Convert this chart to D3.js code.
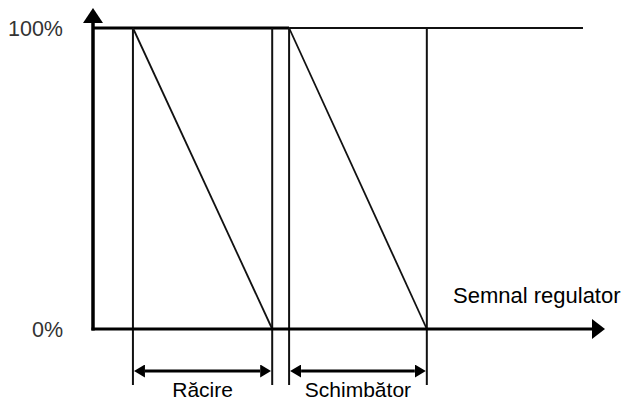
<!DOCTYPE html>
<html>
<head>
<meta charset="utf-8">
<script src="https://cdn.jsdelivr.net/npm/d3@7"></script>
<style>
  body { margin: 0; background: #fff; }
  text { font-family: "Liberation Sans", Arial, sans-serif; }
</style>
</head>
<body>
<div id="chart"></div>
<script>
// signal positions (0..100 along the regulator axis)
var zones = [
  { name: 'Răcire', start: 7.8, end: 35.0 },
  { name: 'Schimbător', start: 38.3, end: 65.2 }
];
var topLineEnd = 95.7;
var yTicks = [0, 100];
var yTickLabels = ['0%', '100%'];
var xTitle = 'Semnal regulator';

var svgWidth = 628;
var svgHeight = 400;

var svg = d3.select('#chart')
    .append('svg')
    .attr('width', svgWidth)
    .attr('height', svgHeight);

var xScale = d3.scaleLinear().domain([0, 100]).range([93, 605]);
var yScale = d3.scaleLinear().domain([0, 100]).range([329, 28]);

// arrow heads, base sits on the line end
function addHead(id, len, wid) {
  svg.append('defs').append('marker')
      .attr('id', id)
      .attr('viewBox', '0 0 ' + len + ' ' + wid)
      .attr('refX', 0).attr('refY', wid / 2)
      .attr('markerWidth', len).attr('markerHeight', wid)
      .attr('markerUnits', 'userSpaceOnUse')
      .attr('orient', 'auto-start-reverse')
      .append('path')
      .attr('d', 'M0,0 L' + len + ',' + (wid / 2) + ' L0,' + wid + ' Z')
      .attr('fill', '#000');
}
addHead('headY', 15, 20);
addHead('headX', 13, 20);
addHead('small', 11, 13);

// 100% line: thick up to second zone start, thin afterwards
svg.append('line')
    .attr('x1', xScale(0)).attr('x2', xScale(zones[1].start))
    .attr('y1', yScale(100)).attr('y2', yScale(100))
    .attr('stroke', '#000').attr('stroke-width', 3);
svg.append('line')
    .attr('x1', xScale(zones[1].start)).attr('x2', xScale(topLineEnd))
    .attr('y1', yScale(100)).attr('y2', yScale(100))
    .attr('stroke', '#111').attr('stroke-width', 2);

// vertical lines at zone edges
zones.forEach(function(z) {
  [z.start, z.end].forEach(function(v) {
    svg.append('line')
        .attr('x1', xScale(v)).attr('x2', xScale(v))
        .attr('y1', yScale(100)).attr('y2', 385)
        .attr('stroke', '#111').attr('stroke-width', 2);
  });

  // falling ramp
  svg.append('line')
      .attr('x1', xScale(z.start)).attr('y1', yScale(100))
      .attr('x2', xScale(z.end)).attr('y2', yScale(0))
      .attr('stroke', '#111').attr('stroke-width', 1.8);

  // double arrow
  svg.append('line')
      .attr('x1', xScale(z.start) + 12).attr('x2', xScale(z.end) - 12)
      .attr('y1', 371).attr('y2', 371)
      .attr('stroke', '#000').attr('stroke-width', 3)
      .attr('marker-start', 'url(#small)')
      .attr('marker-end', 'url(#small)');

  svg.append('text')
      .attr('x', (xScale(z.start) + xScale(z.end)) / 2)
      .attr('y', 397)
      .attr('text-anchor', 'middle')
      .style('font-size', '21px')
      .attr('fill', '#000')
      .text(z.name);
});

// axes
svg.append('line')
    .attr('x1', xScale(0) - 1.5).attr('x2', xScale(100) - 13)
    .attr('y1', yScale(0)).attr('y2', yScale(0))
    .attr('stroke', '#000').attr('stroke-width', 3)
    .attr('marker-end', 'url(#headX)');

svg.append('line')
    .attr('x1', xScale(0)).attr('x2', xScale(0))
    .attr('y1', yScale(0) + 1.5).attr('y2', 23)
    .attr('stroke', '#000').attr('stroke-width', 3.5)
    .attr('marker-end', 'url(#headY)');

// y labels
svg.selectAll('.ylab')
    .data(yTicks)
    .enter()
    .append('text')
    .attr('class', 'ylab')
    .attr('x', 63)
    .attr('y', d => yScale(d) + 8)
    .attr('text-anchor', 'end')
    .style('font-size', '21.5px')
    .attr('fill', '#333')
    .text((d, i) => yTickLabels[i]);

svg.append('text')
    .attr('x', 453)
    .attr('y', 303)
    .style('font-size', '22px')
    .attr('fill', '#000')
    .text(xTitle);
</script>
</body>
</html>
